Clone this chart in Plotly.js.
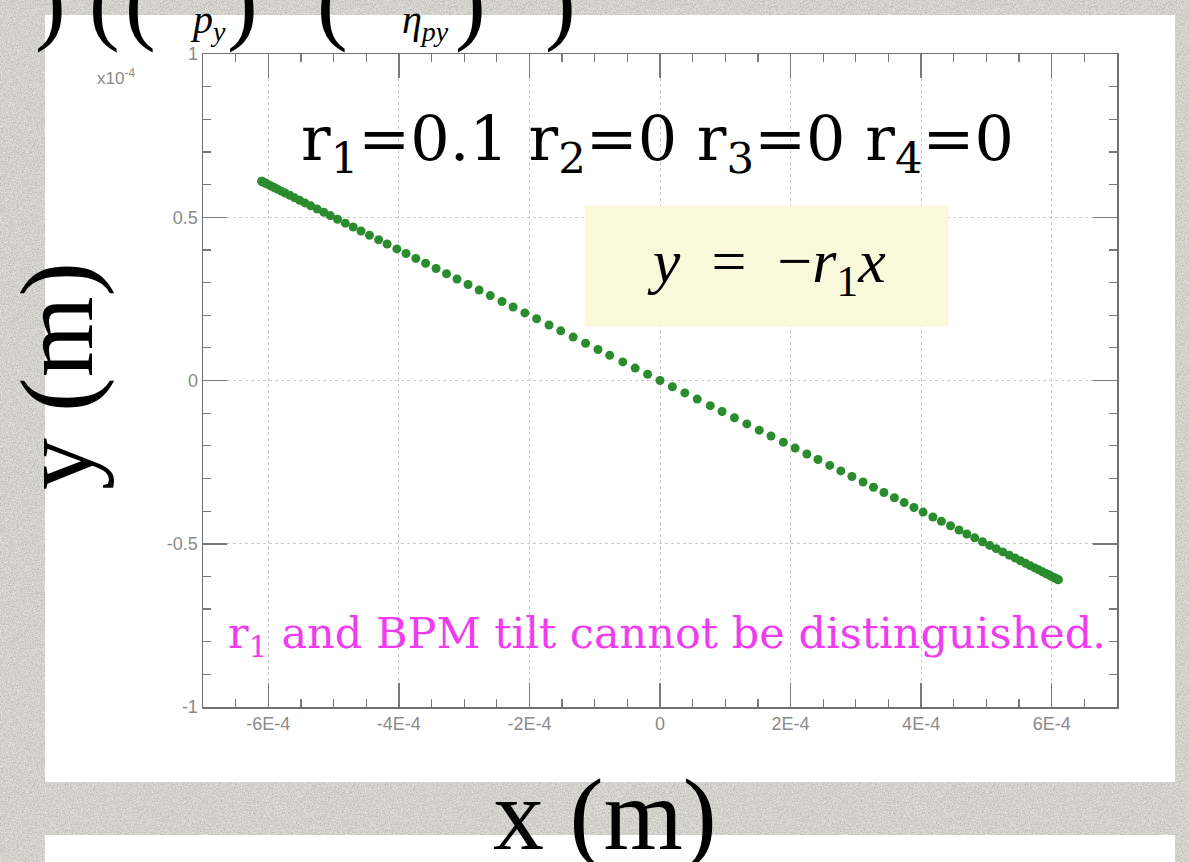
<!DOCTYPE html>
<html>
<head>
<meta charset="utf-8">
<script src="https://cdn.plot.ly/plotly-3.0.1.min.js"></script>
<style>
  html, body {
    margin: 0; padding: 0;
    background-color: #e4e2dd;
    background-image: url("data:image/svg+xml;utf8,<svg xmlns='http://www.w3.org/2000/svg' width='320' height='320'><filter id='n'><feTurbulence type='fractalNoise' baseFrequency='0.75' numOctaves='3' stitchTiles='stitch'/><feColorMatrix values='0 0 0 0 0  0 0 0 0 0  0 0 0 0 0  0.35 0 0 0 -0.1'/></filter><rect width='100%' height='100%' filter='url(%23n)'/></svg>");
  }
  #chart { width: 1189px; height: 862px; }
</style>
</head>
<body>
<div id="chart"></div>
<script>
// Horizontal beam position (units of 1e-4 m)
const xPos = [
  -6.10, -6.10, -6.09, -6.07, -6.05, -6.03, -5.99, -5.95, -5.91, -5.86,
  -5.80, -5.74, -5.67, -5.60, -5.52, -5.44, -5.35, -5.25, -5.15, -5.05,
  -4.94, -4.82, -4.70, -4.58, -4.45, -4.31, -4.18, -4.03, -3.89, -3.74,
  -3.59, -3.43, -3.27, -3.11, -2.94, -2.77, -2.60, -2.42, -2.25, -2.07,
  -1.89, -1.70, -1.52, -1.33, -1.14, -0.95, -0.77, -0.57, -0.38, -0.19,
   0.00,
   0.19,  0.38,  0.57,  0.77,  0.95,  1.14,  1.33,  1.52,  1.70,  1.89,
   2.07,  2.25,  2.42,  2.60,  2.77,  2.94,  3.11,  3.27,  3.43,  3.59,
   3.74,  3.89,  4.03,  4.18,  4.31,  4.45,  4.58,  4.70,  4.82,  4.94,
   5.05,  5.15,  5.25,  5.35,  5.44,  5.52,  5.60,  5.67,  5.74,  5.80,
   5.86,  5.91,  5.95,  5.99,  6.03,  6.05,  6.07,  6.09,  6.10,  6.10
];

// Vertical beam position (units of 1e-4 m)
const yPos = [
   0.610,  0.610,  0.609,  0.607,  0.605,  0.603,  0.599,  0.595,  0.591,  0.586,
   0.580,  0.574,  0.567,  0.560,  0.552,  0.544,  0.535,  0.525,  0.515,  0.505,
   0.494,  0.482,  0.470,  0.458,  0.445,  0.431,  0.418,  0.403,  0.389,  0.374,
   0.359,  0.343,  0.327,  0.311,  0.294,  0.277,  0.260,  0.242,  0.225,  0.207,
   0.189,  0.170,  0.152,  0.133,  0.114,  0.095,  0.077,  0.057,  0.038,  0.019,
   0.000,
  -0.019, -0.038, -0.057, -0.077, -0.095, -0.114, -0.133, -0.152, -0.170, -0.189,
  -0.207, -0.225, -0.242, -0.260, -0.277, -0.294, -0.311, -0.327, -0.343, -0.359,
  -0.374, -0.389, -0.403, -0.418, -0.431, -0.445, -0.458, -0.470, -0.482, -0.494,
  -0.505, -0.515, -0.525, -0.535, -0.544, -0.552, -0.560, -0.567, -0.574, -0.580,
  -0.586, -0.591, -0.595, -0.599, -0.603, -0.605, -0.607, -0.609, -0.610, -0.610
];

// Axis ticks
const xTickVals = [-6, -4, -2, 0, 2, 4, 6];
const xTickText = ['-6E-4', '-4E-4', '-2E-4', '0', '2E-4', '4E-4', '6E-4'];
const yTickVals = [-1, -0.5, 0, 0.5, 1];
const yTickText = ['-1', '-0.5', '0', '0.5', '1'];

// Plot-area placement in page pixels
const W = 1189, H = 862;
const L = 203, R = 1117, T = 54, B = 707;
const px = v => (v - L) / (R - L);
const py = v => (B - v) / (B - T);

const serif = 'Liberation Serif, Times New Roman, serif';
const wideSerif = 'DejaVu Serif, serif';
const sans = 'Liberation Sans, Arial, sans-serif';
const tickFont = { family: sans, size: 18, color: '#8a8a8a' };

// text placed at a page-pixel centre
function label(x, y, text, font, extra) {
  return Object.assign({
    xref: 'paper', yref: 'paper', x: px(x), y: py(y),
    xanchor: 'center', yanchor: 'middle', showarrow: false,
    text: text, font: font
  }, extra || {});
}

const trace = {
  x: xPos, y: yPos,
  type: 'scatter', mode: 'markers',
  marker: { color: '#2a8c2e', size: 9, line: { width: 0 } },
  hoverinfo: 'x+y'
};

const axisCommon = {
  showline: true, linecolor: '#707070', linewidth: 1.5,
  mirror: 'ticks', ticks: 'inside', ticklen: 24, tickwidth: 1.5, tickcolor: '#7a7a7a',
  showgrid: true, gridcolor: '#cacaca', gridwidth: 1, griddash: 'dot',
  zeroline: false, tickfont: tickFont, tickmode: 'array', fixedrange: true
};

const black = c => ({ family: serif, size: c, color: '#000000' });

const layout = {
  width: W, height: H,
  margin: { l: L, r: W - R, t: T, b: H - B, pad: 0 },
  paper_bgcolor: 'rgba(0,0,0,0)',
  plot_bgcolor: '#ffffff',
  showlegend: false,
  font: { family: serif },
  xaxis: Object.assign({}, axisCommon, {
    range: [-7, 7], tickvals: xTickVals, ticktext: xTickText,
    minor: { dtick: 0.5, tick0: 0, ticks: 'inside', ticklen: 8, tickwidth: 1.2, tickcolor: '#7a7a7a', showgrid: false }
  }),
  yaxis: Object.assign({}, axisCommon, {
    range: [-1, 1], tickvals: yTickVals, ticktext: yTickText,
    minor: { dtick: 0.1, tick0: 0, ticks: 'inside', ticklen: 8, tickwidth: 1.2, tickcolor: '#7a7a7a', showgrid: false }
  }),
  shapes: [
    // slide panels behind the chart
    { type: 'rect', xref: 'paper', yref: 'paper', layer: 'below',
      x0: px(45), x1: px(1175), y0: py(782), y1: py(15),
      fillcolor: '#ffffff', line: { width: 0 } },
    { type: 'rect', xref: 'paper', yref: 'paper', layer: 'below',
      x0: px(45), x1: px(1175), y0: py(900), y1: py(835),
      fillcolor: '#ffffff', line: { width: 0 } }
  ],
  annotations: [
    label(116, 77, 'x10<sup>-4</sup>', { family: sans, size: 17, color: '#8a8a8a' }),
    label(657, 142, 'r<sub>1</sub>=0.1 r<sub>2</sub>=0 r<sub>3</sub>=0 r<sub>4</sub>=0',
      { family: wideSerif, size: 62, color: '#000000' }),
    label(766, 266, '<i>y</i>\u2002=\u2002−<i>r</i><sub>1</sub><i>x</i>',
      { family: serif, size: 62, color: '#000000' },
      { width: 363, height: 120, bgcolor: '#fbf9dc', borderpad: 0 }),
    label(667, 636, 'r<sub>1</sub> and BPM tilt cannot be distinguished.',
      { family: wideSerif, size: 43, color: '#f03cf0' }),
    label(57, 376, 'y (m)', black(104), { textangle: -90 }),
    label(605, 814, 'x (m)', black(102)),
    // tail of the equation from the slide above
    label(50, 2, ')', black(92)),
    label(104, 2, '(', black(92)),
    label(140, 2, '(', black(92)),
    label(208, 22, '<i>p<sub>y</sub></i>', black(40)),
    label(242, 2, ')', black(92)),
    label(332, 2, '(', black(92)),
    label(425, 22, '<i>η<sub>py</sub></i>', black(40)),
    label(470, 2, ')', black(92)),
    label(560, 2, ')', black(92))
  ]
};

Plotly.newPlot('chart', [trace], layout, { displayModeBar: false, staticPlot: true });
</script>
</body>
</html>
